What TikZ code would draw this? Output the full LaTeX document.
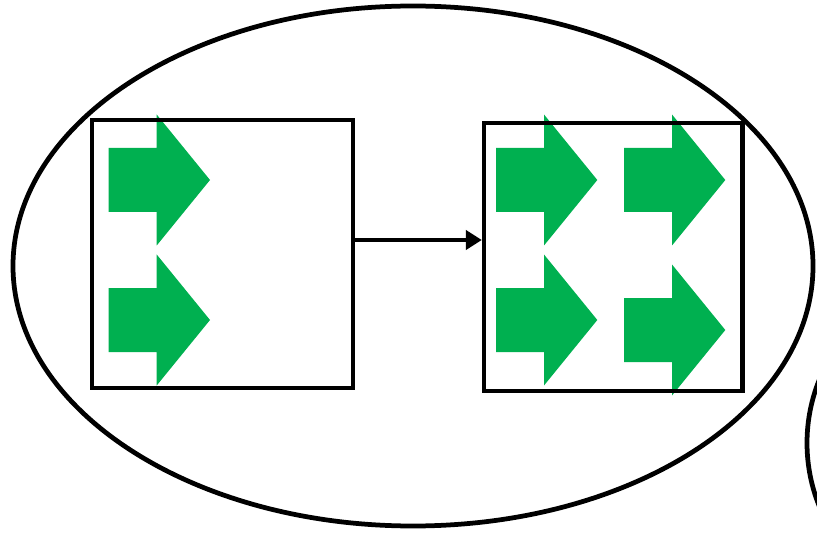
\documentclass[tikz,border=0pt]{standalone}
\usetikzlibrary{arrows.meta}

% filled block arrow, shaft starting at x=#1, tip level y=#2
\newcommand{\growarrow}[2]{%
  \fill[dividegreen] (#1, #2) ++(0, -32) -- ++(48, 0) -- ++(0, -33.5)
    -- ++(53.3, 65.5) -- ++(-53.3, 65.5) -- ++(0, -33.5) -- ++(-48, 0) -- cycle;}

\begin{document}
\begin{tikzpicture}[x=0.02cm, y=-0.02cm, >={Triangle[length=0.32cm, width=0.38cm]},
  cellbox/.style={draw, line width=0.085cm, minimum width=5.23cm, minimum height=5.36cm, inner sep=0pt},
  outline/.style={line width=0.095cm}]

\definecolor{dividegreen}{RGB}{0, 176, 80}

\useasboundingbox (0, 0) rectangle (817, 533);

% outer cell
\draw[outline] (413, 266) ellipse [x radius=400, y radius=260];

% neighbour cell, cut by the page edge
\begin{scope}
  \clip (0, 0) rectangle (817, 533);
  \draw[outline] (975, 443) circle [radius=168];
\end{scope}

% arrows before the boxes, so the box edges stay on top
\growarrow{108.7}{180}
\growarrow{108.7}{320}

\growarrow{496}{180}
\growarrow{496}{320}
\growarrow{624}{180}
\growarrow{624}{330}

\node[cellbox] (parent) at (222.5, 254) {};
\node[cellbox, minimum width=5.17cm] (daughter) at (613.2, 256.7) {};

\coordinate (split) at ([yshift=0.28cm]parent.east);
\draw[->, line width=0.085cm] (split) -- (split -| daughter.west);

\end{tikzpicture}
\end{document}
